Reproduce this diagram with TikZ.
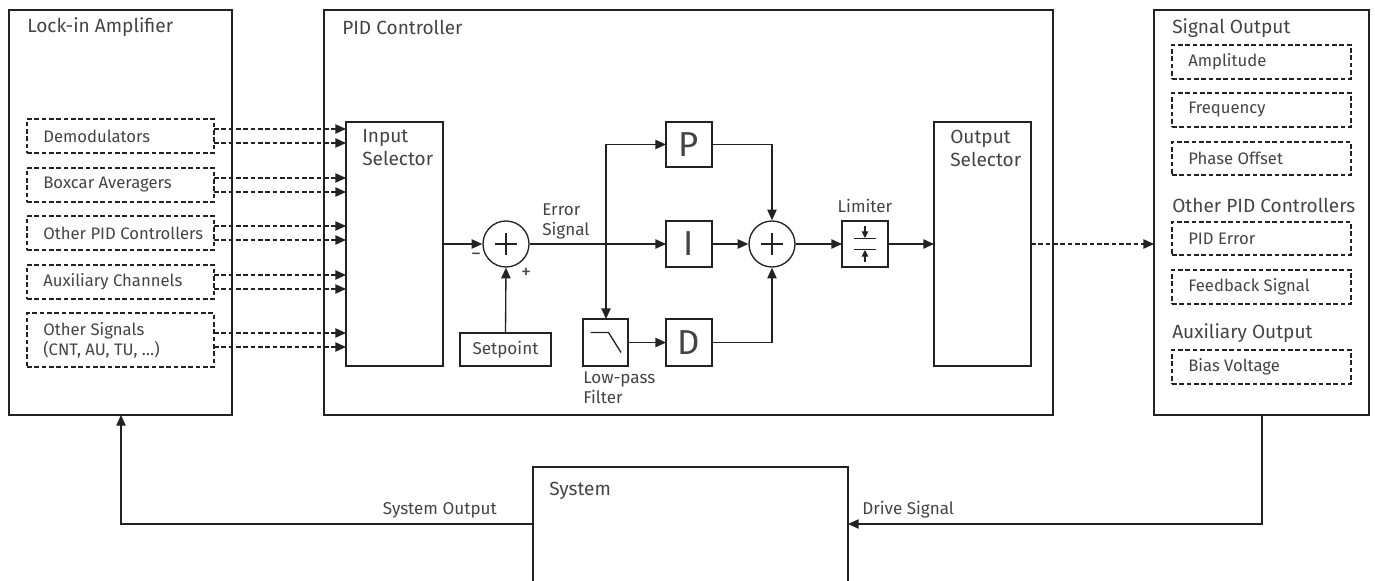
\documentclass[tikz,border=0pt]{standalone}
\usepackage{fontspec}
\setmainfont{Fira Sans}
\usetikzlibrary{arrows.meta,calc,fit}
\definecolor{lc}{HTML}{222222}
\definecolor{tc}{HTML}{444444}
\begin{document}
\begin{tikzpicture}[x=0.75pt,y=-0.75pt,
  box/.style={draw=lc, line width=1pt, inner sep=0pt, outer sep=0pt},
  dbox/.style={box, dash pattern=on 3.5pt off 2pt},
  lbl/.style={text=tc, font=\fontsize{12.5}{17}\selectfont, inner sep=0pt, anchor=west, align=left},
  hdr/.style={lbl, font=\fontsize{14.3}{17.25}\selectfont},
  sml/.style={text=tc, font=\fontsize{12.8}{15}\selectfont, inner sep=0pt, align=left},
  sgn/.style={text=tc, font=\fontsize{15}{15}\selectfont, inner sep=0pt},
  arr/.style={draw=lc, line width=1pt, -{Triangle[length=8pt,width=7pt]}},
  darr/.style={arr, dash pattern=on 3.5pt off 2pt},
  sarr/.style={draw=lc, line width=0.8pt, -{Triangle[length=5pt,width=5pt]}},
  ln/.style={draw=lc, line width=1pt},
  sum/.style={circle, draw=lc, line width=1pt, minimum size=34.5pt, inner sep=0pt},
  big/.style={text=tc, inner sep=0pt, font=\fontsize{26}{26}\selectfont}
]
\path[use as bounding box] (0,0) rectangle (1375,581);
\clip (0,0) rectangle (1375,581);

% panels
\node[box, fit={(9,10) (232,415)}] (lia) {};
\node[hdr] (liat) at (27,27) {Lock-in Amplifier};
\node[box, fit={(324,10) (1053,415)}] (pid) {};
\node[hdr] (pidt) at (342,27) {PID Controller};
\node[box, fit={(1154,10) (1369,415)}] (so) {};
\node[hdr] (sot) at (1172,28) {Signal Output};

% left items
\node[dbox, fit={(27,119) (214,153)}] (dm) {};
\node[lbl] (dmt) at (43,136) {Demodulators};
\node[dbox, fit={(27,168) (214,202)}] (bx) {};
\node[lbl] (bxt) at (43,185) {Boxcar Averagers};
\node[dbox, fit={(27,216) (214,250)}] (op) {};
\node[lbl] (opt) at (43,233) {Other PID Controllers};
\node[dbox, fit={(27,265) (214,299)}] (ax) {};
\node[lbl] (axt) at (43,282) {Auxiliary Channels};
\node[dbox, fit={(27,313) (214,367)}] (os) {};
\node[lbl, font=\fontsize{12.5}{15}\selectfont] (ost) at (43,340) {Other Signals\\(CNT, AU, TU, …)};

% input selector
\node[box, fit={(346,122) (443,366)}] (is) {};
\node[hdr] (ist) at (362,148) {Input\\Selector};

\foreach \b in {dm,bx,op,ax,os}{
  \draw[darr] ($(\b.east)+(0,-7)$) coordinate (t) -- (t -| is.west);
  \draw[darr] ($(\b.east)+(0,7)$) coordinate (t) -- (t -| is.west);
}

% sum 1
\node[sum] (s1) at (506,244) {};
\draw[ln] ($(s1)+(-11,0)$) -- ($(s1)+(11,0)$);
\draw[ln] ($(s1)+(0,-11)$) -- ($(s1)+(0,11)$);
\node[sgn] (mns) at (476,257) {−};
\node[sgn] (pls) at (526,273) {+};
\draw[arr] (is.east |- s1) -- (s1.west);

\node[box, fit={(460,333) (551,366)}] (sp) {};
\node[sml] (spt) at (sp) {Setpoint};
\draw[arr] (sp.north) -- (s1.south);

\node[sml, anchor=south west] (es) at (542,239) {Error\\Signal};

% P I D
\node[box, fit={(666,122) (712,167)}] (P) {};
\node[big] (Pt) at (P) {P};
\node[box, fit={(666,221) (712,267)}] (I) {};
\node[big] (It) at (I) {I};
\node[box, fit={(666,319) (712,366)}] (D) {};
\node[big] (Dt) at (D) {D};
\node[box, fit={(583,319) (628,366)}] (lpf) {};
\draw[ln] ($(lpf)+(-15,-10)$) -- ($(lpf)+(3,-10)$) -- ($(lpf)+(15.5,10)$);
\node[sml, anchor=north west] (lpft) at (583,371) {Low-pass\\Filter};

\coordinate (br) at (606,244);
\draw[arr] (s1.east) -- (I.west);
\draw[arr] (br) |- (P.west);
\draw[arr] (br) -- (br |- lpf.north);
\draw[arr] (lpf.east) -- (D.west);

% sum 2
\node[sum] (s2) at (772,244) {};
\draw[ln] ($(s2)+(-11,0)$) -- ($(s2)+(11,0)$);
\draw[ln] ($(s2)+(0,-11)$) -- ($(s2)+(0,11)$);
\draw[arr] (I.east) -- (s2.west);
\draw[arr] (P.east) -| (s2.north);
\draw[arr] (D.east) -| (s2.south);

% limiter
\node[box, fit={(842,221) (888,267)}] (lim) {};
\node[sml] (limt) at (865,206) {Limiter};
\draw[ln] ($(lim)+(-11,-5.5)$) -- ++(22,0);
\draw[ln] ($(lim)+(-11,5.5)$) -- ++(22,0);
\draw[sarr] ($(lim)+(0,-18)$) -- ($(lim)+(0,-6)$);
\draw[sarr] ($(lim)+(0,18)$) -- ($(lim)+(0,6)$);
\draw[arr] (s2.east) -- (lim.west);

% output selector
\node[box, fit={(934,122) (1031,366)}] (osel) {};
\node[hdr] (oselt) at (950,148) {Output\\Selector};
\draw[arr] (lim.east) -- (osel.west);
\draw[darr] (osel.east) -- (so.west |- osel.east);

% right items
\node[dbox, fit={(1172,45) (1351,79)}] (am) {};
\node[lbl] (amt) at (1188,62) {Amplitude};
\node[dbox, fit={(1172,93) (1351,127)}] (fq) {};
\node[lbl] (fqt) at (1188,110) {Frequency};
\node[dbox, fit={(1172,142) (1351,175)}] (ph) {};
\node[lbl] (pht) at (1188,158.5) {Phase Offset};
\node[hdr] (opct) at (1172,205) {Other PID Controllers};
\node[dbox, fit={(1172,222) (1351,255)}] (pe) {};
\node[lbl] (pet) at (1188,238.5) {PID Error};
\node[dbox, fit={(1172,270) (1351,304)}] (fb) {};
\node[lbl] (fbt) at (1188,287) {Feedback Signal};
\node[hdr] (aot) at (1172,333) {Auxiliary Output};
\node[dbox, fit={(1172,350) (1351,384)}] (bv) {};
\node[lbl] (bvt) at (1188,367) {Bias Voltage};

% system
\node[box, fit={(533,467) (848,640)}] (sys) {};
\node[hdr] (syst) at (549,491) {System};
\coordinate (fl) at (121,524);
\coordinate (fr) at (1262,524);
\draw[arr] (sys.west |- fl) -- (fl) -- (fl |- lia.south);
\draw[arr] (so.south -| fr) -- (fr) -- (sys.east |- fr);
\node[sml, anchor=east] (sout) at (497,510) {System Output};
\node[sml, anchor=west] (dst) at (862,510) {Drive Signal};
\end{tikzpicture}
\end{document}
